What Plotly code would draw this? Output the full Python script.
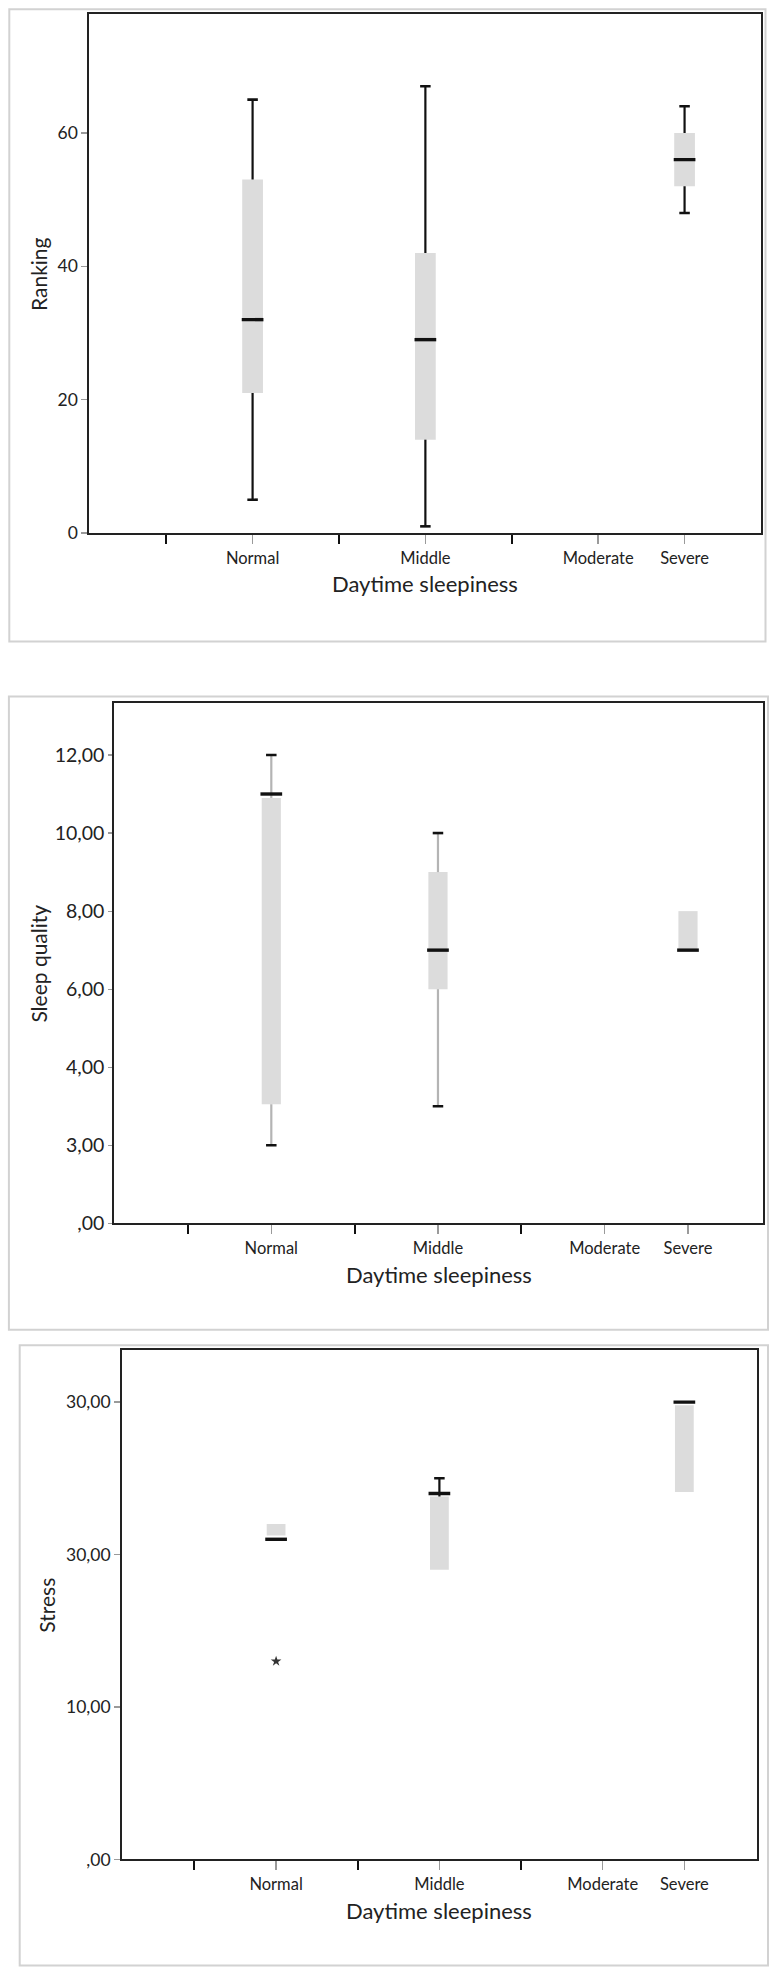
import plotly.graph_objects as go

# ---------------- data ----------------
tick_positions = [1, 3, 5, 6]
tick_labels = ["Normal", "Middle", "Moderate", "Severe"]
blank_ticks = [0, 2, 4]

box_x = [1, 3, 6]  # Normal, Middle, Severe (Moderate: no data)

rank_q1 = [21, 14, 52]
rank_median = [32, 29, 56]
rank_q3 = [53, 42, 60]
rank_low = [5, 1, 48]
rank_high = [65, 67, 64]
rank_tickvals = [0, 20, 40, 60]
rank_ticktext = ["0", "20", "40", "60"]

sleep_q1 = [3.05, 6, 7]
sleep_median = [11, 7, 7]
sleep_q3 = [10.9, 9, 8]
sleep_low = [2, 3, None]
sleep_high = [12, 10, None]
sleep_tickvals = [0, 2, 4, 6, 8, 10, 12]
sleep_ticktext = [",00", "3,00", "4,00", "6,00", "8,00", "10,00", "12,00"]

stress_q1 = [21.25, 19, 24.1]
stress_median = [21, 24, 30]
stress_q3 = [22, 23.8, 29.8]
stress_low = [None, None, None]
stress_high = [None, 25, None]
stress_outlier_x = [1]
stress_outlier_y = [13]
stress_tickvals = [0, 10, 20, 30]
stress_ticktext = [",00", "10,00", "30,00", "30,00"]

W, H = 771, 1979
FONT = "Lato"
BOX_FILL = "#dcdcdc"


def px(v):
    return v / W


def py(v):
    return 1 - v / H


fig = go.Figure()


def add_panel(n, q1, med, q3, low, high, whisker_color, box_w):
    xa = "x" if n == 1 else f"x{n}"
    ya = "y" if n == 1 else f"y{n}"
    # box bodies
    fig.add_trace(go.Bar(
        x=box_x, y=[b - a for a, b in zip(q1, q3)], base=q1, width=box_w,
        marker=dict(color=BOX_FILL, line=dict(width=0)),
        xaxis=xa, yaxis=ya, hoverinfo="skip"))
    # whiskers
    wx, wy, cx, cy = [], [], [], []
    for i, xv in enumerate(box_x):
        if high[i] is not None:
            wx += [xv, xv, None]
            wy += [q3[i], high[i], None]
            cx.append(xv)
            cy.append(high[i])
        if low[i] is not None:
            wx += [xv, xv, None]
            wy += [q1[i], low[i], None]
            cx.append(xv)
            cy.append(low[i])
    if wx:
        fig.add_trace(go.Scatter(
            x=wx, y=wy, mode="lines",
            line=dict(color=whisker_color, width=2.2),
            xaxis=xa, yaxis=ya, hoverinfo="skip"))
        fig.add_trace(go.Scatter(
            x=cx, y=cy, mode="markers",
            marker=dict(symbol="line-ew", size=7.5,
                        line=dict(color="#111111", width=2.6)),
            xaxis=xa, yaxis=ya, hoverinfo="skip"))
    # medians
    fig.add_trace(go.Scatter(
        x=box_x, y=med, mode="markers",
        marker=dict(symbol="line-ew", size=15.5,
                    line=dict(color="#111111", width=3.4)),
        xaxis=xa, yaxis=ya, hoverinfo="skip"))


add_panel(1, rank_q1, rank_median, rank_q3, rank_low, rank_high, "#111111", 0.24)
add_panel(2, sleep_q1, sleep_median, sleep_q3, sleep_low, sleep_high, "#b4b4b4", 0.23)
add_panel(3, stress_q1, stress_median, stress_q3, stress_low, stress_high, "#111111", 0.23)

fig.add_trace(go.Scatter(
    x=stress_outlier_x, y=stress_outlier_y, mode="markers",
    marker=dict(symbol="star", size=8, color="#333333"),
    xaxis="x3", yaxis="y3", hoverinfo="skip"))

panels = [
    dict(area=(89.3, 760.6, 14.3, 536.0), xr=[-0.89, 6.88], yr=[0, 77.8],
         tv=rank_tickvals, tt=rank_ticktext, yfs=17.5, ytl=6,
         frame=(9.3, 765.5, 9.3, 645.0), ytitle="Ranking", ytx=38.4),
    dict(area=(114.2, 763.0, 707.0, 1230.2), xr=[-0.885, 6.9], yr=[0, 13.33],
         tv=sleep_tickvals, tt=sleep_ticktext, yfs=19.5, ytl=4,
         frame=(8.9, 768.0, 700.3, 1337.3), ytitle="Sleep quality", ytx=38.4),
    dict(area=(122.1, 756.7, 1357.8, 1869.8), xr=[-0.886, 6.886], yr=[0, 33.4],
         tv=stress_tickvals, tt=stress_ticktext, yfs=17.5, ytl=6,
         frame=(19.7, 768.0, 1352.8, 1976.5), ytitle="Stress", ytx=46.8),
]

layout = dict(
    width=W, height=H,
    margin=dict(l=0, r=0, t=0, b=0),
    paper_bgcolor="white", plot_bgcolor="white",
    showlegend=False, barmode="overlay",
    font=dict(family=FONT, color="#222222"),
    shapes=[], annotations=[],
)

for i, p in enumerate(panels, start=1):
    l, r, t, b = p["area"]
    xk = "xaxis" if i == 1 else f"xaxis{i}"
    yk = "yaxis" if i == 1 else f"yaxis{i}"
    yref = "y" if i == 1 else f"y{i}"
    xref = "x" if i == 1 else f"x{i}"
    layout[xk] = dict(
        domain=[px(l), px(r)], anchor=yref, range=p["xr"],
        tickmode="array", tickvals=tick_positions, ticktext=tick_labels,
        ticks="outside", ticklen=9, tickwidth=1.5, tickcolor="#9a9a9a",
        minor=dict(tickmode="array", tickvals=blank_ticks, ticks="outside",
                   ticklen=9, tickwidth=2, tickcolor="#111111"),
        tickfont=dict(family=FONT, size=16.5, color="#222222"),
        showgrid=False, zeroline=False, showline=True, mirror=True,
        linecolor="#222222", linewidth=2, fixedrange=True)
    layout[yk] = dict(
        domain=[py(b), py(t)], anchor=xref, range=p["yr"],
        tickmode="array", tickvals=p["tv"], ticktext=p["tt"],
        ticks="outside", ticklen=p["ytl"], tickwidth=1.2, tickcolor="#9a9a9a",
        tickfont=dict(family=FONT, size=p["yfs"], color="#222222"),
        showgrid=False, zeroline=False, showline=True, mirror=True,
        linecolor="#222222", linewidth=2, fixedrange=True)
    fl, fr, ft, fb = p["frame"]
    layout["shapes"].append(dict(
        type="rect", xref="paper", yref="paper",
        x0=px(fl), x1=px(fr), y0=py(fb), y1=py(ft),
        line=dict(color="#d2d2d2", width=2), fillcolor="rgba(0,0,0,0)",
        layer="below"))
    layout["annotations"].append(dict(
        text="Daytime sleepiness", xref="paper", yref="paper",
        x=px((l + r) / 2), y=py(b + 51), xanchor="center", yanchor="middle",
        showarrow=False, font=dict(family=FONT, size=22, color="#222222")))
    layout["annotations"].append(dict(
        text=p["ytitle"], xref="paper", yref="paper", textangle=-90,
        x=px(p["ytx"]), y=py((t + b) / 2), xanchor="center", yanchor="middle",
        showarrow=False, font=dict(family=FONT, size=21, color="#222222")))

fig.update_layout(**layout)
fig.write_html(
    "out.html",
    config={"displayModeBar": False, "staticPlot": True},
    post_script="document.body.style.margin='0';document.body.style.overflow='hidden';",
)
